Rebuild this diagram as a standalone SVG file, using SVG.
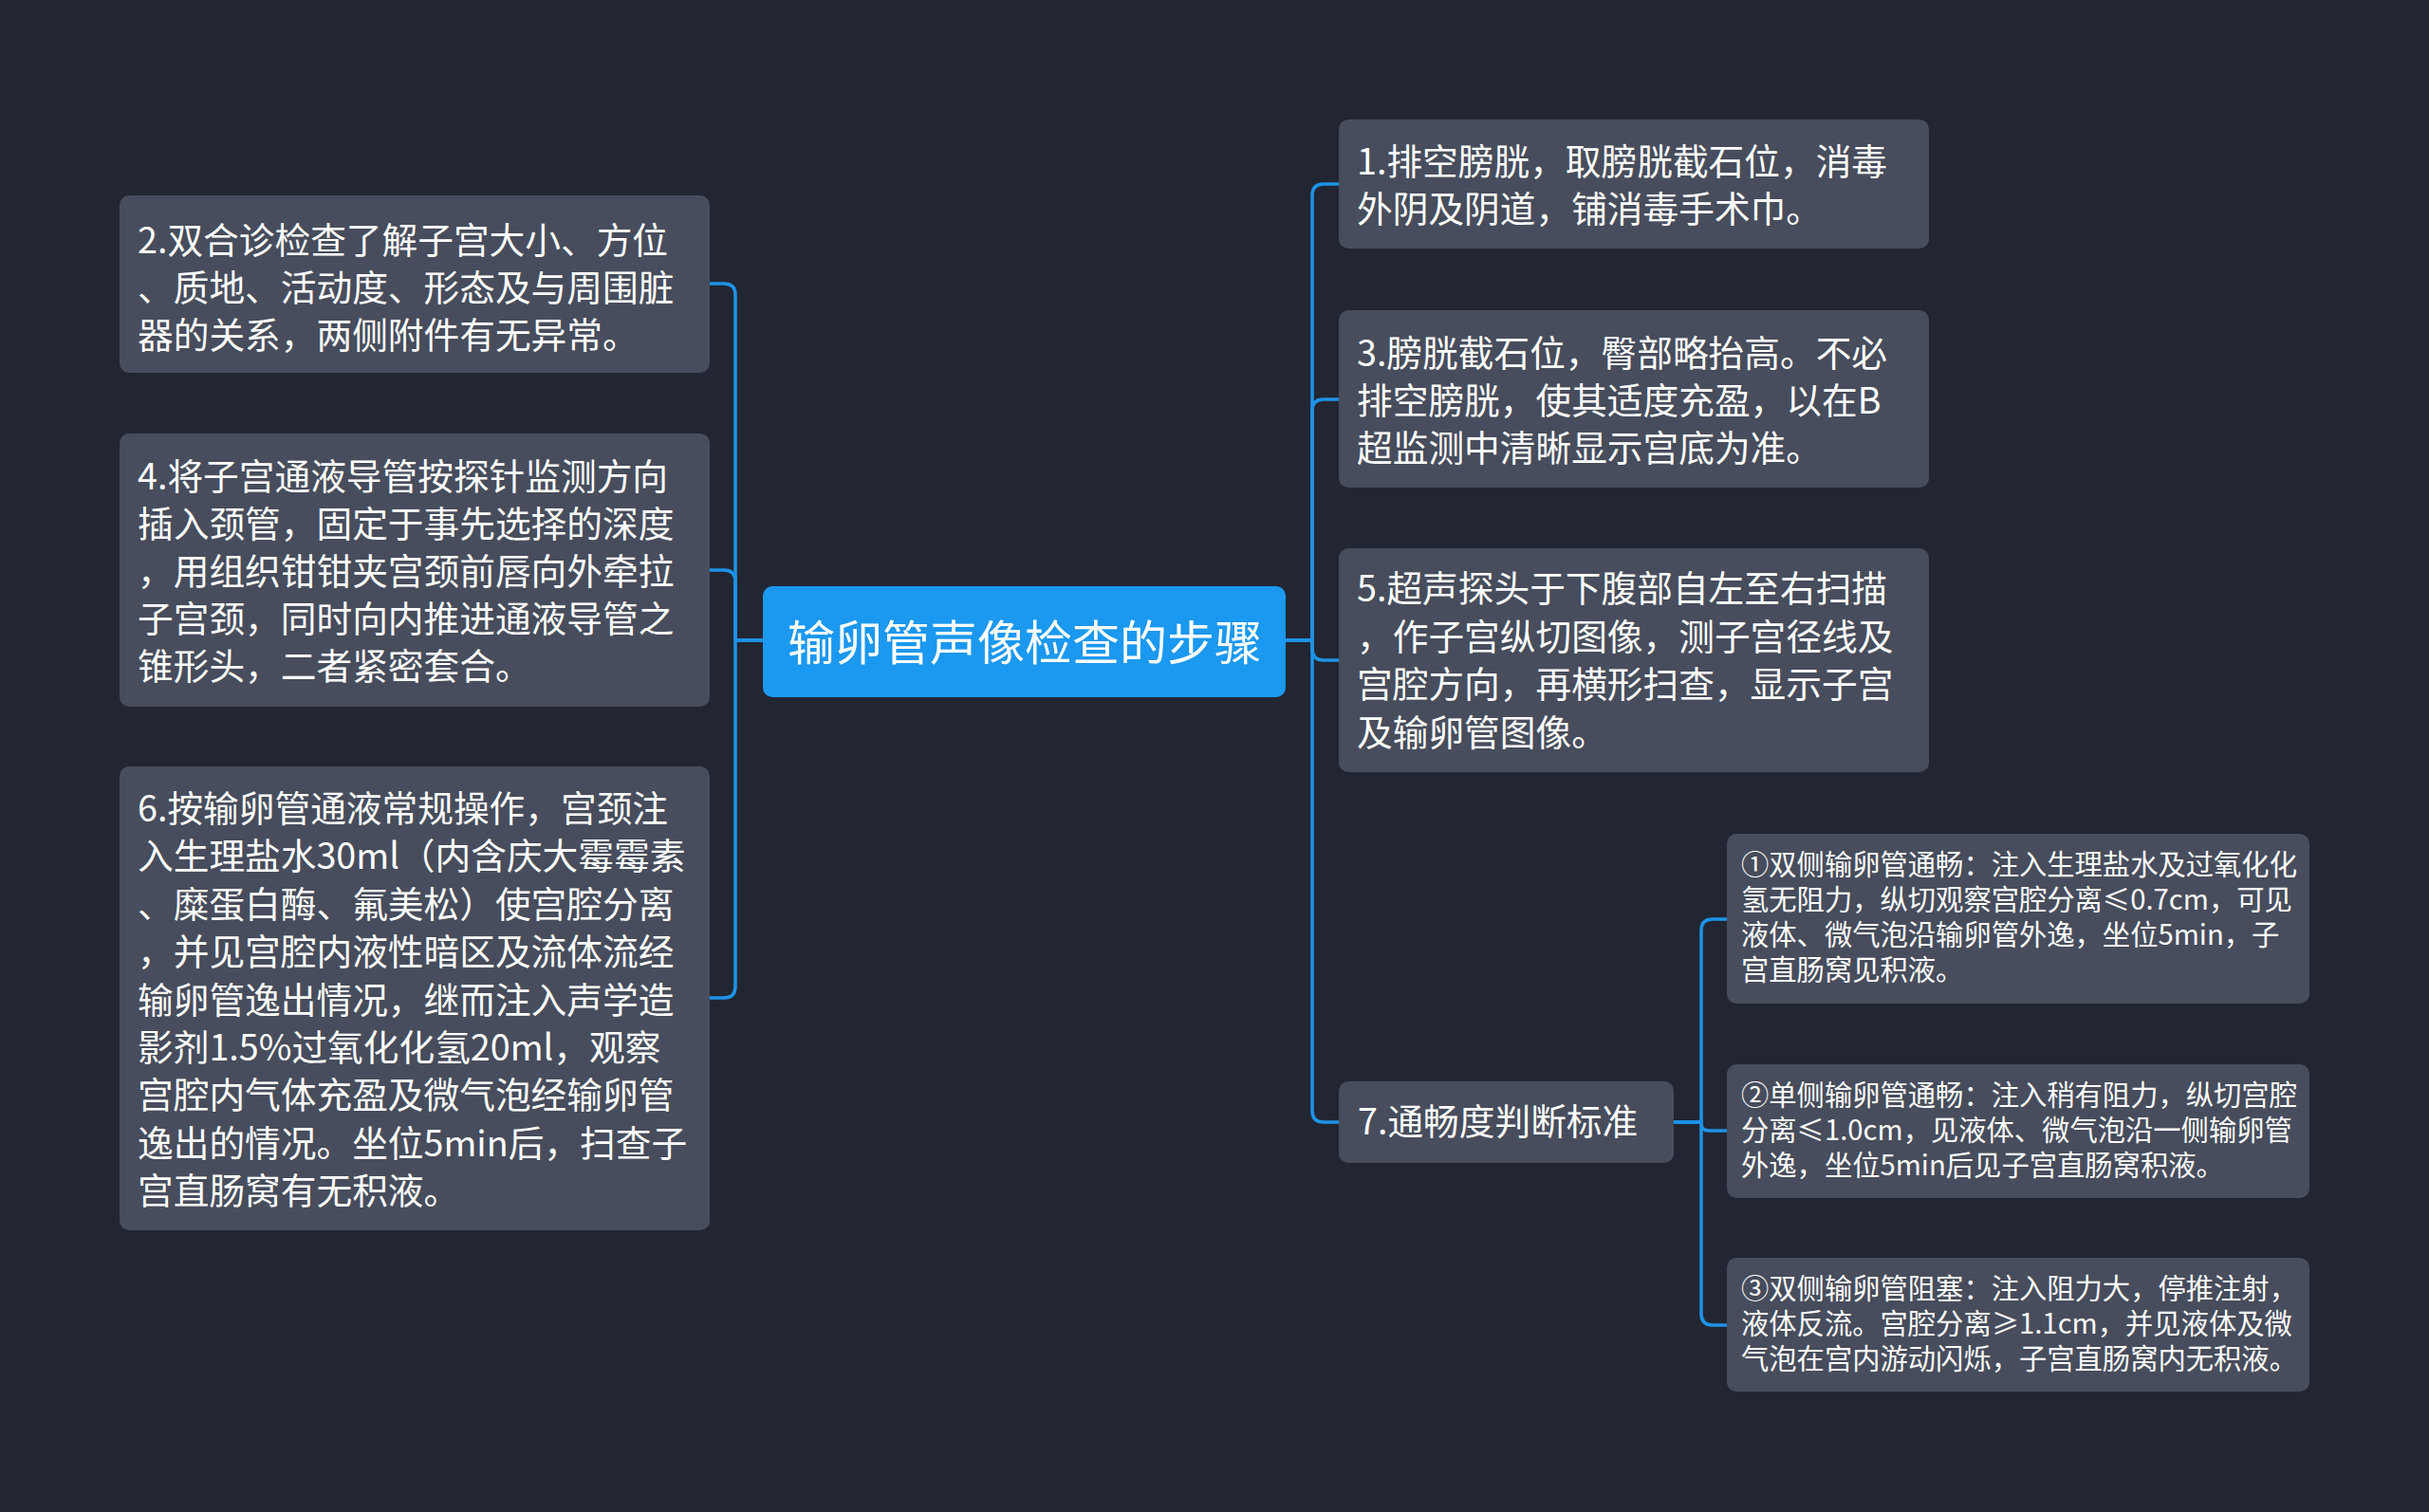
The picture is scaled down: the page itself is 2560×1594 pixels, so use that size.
<svg xmlns="http://www.w3.org/2000/svg" width="2560" height="1594" viewBox="0 0 2560 1594">
<style>
.bg{fill:#222632}
.box{fill:#474d5c}
.root{fill:#1b98ef}
.t{font-family:"Noto Sans CJK SC","Noto Sans",sans-serif;fill:#ffffff;font-size:37.7px}
.s{font-size:29.3px}
.r{font-size:50px}
.ln{fill:none;stroke:#1e93e6;stroke-width:3.5}
</style>
<rect class="bg" x="0" y="0" width="2560" height="1594"/>
<g id="connectors">
<path class="ln" d="M804,675 H775 V311 Q775,299 763,299 H748"/>
<path class="ln" d="M804,675 H775 V613 Q775,601 763,601 H748"/>
<path class="ln" d="M804,675 H775 V1040 Q775,1052 763,1052 H748"/>
<path class="ln" d="M1355,675 H1383 V206 Q1383,194 1395,194 H1411"/>
<path class="ln" d="M1355,675 H1383 V433 Q1383,421 1395,421 H1411"/>
<path class="ln" d="M1355,675 H1383 V684 Q1383,696 1395,696 H1411"/>
<path class="ln" d="M1355,675 H1383 V1171 Q1383,1183 1395,1183 H1411"/>
<path class="ln" d="M1764,1183 H1793 V981 Q1793,969 1805,969 H1820"/>
<path class="ln" d="M1764,1183 H1793 V1184 Q1793,1192 1801,1192 H1820"/>
<path class="ln" d="M1764,1183 H1793 V1385 Q1793,1397 1805,1397 H1820"/>
</g>
<g id="root">
<rect class="root" x="804" y="618" width="551" height="117" rx="10"/>
<text class="t r" x="1080" y="696" text-anchor="middle">输卵管声像检查的步骤</text>
</g>
<g id="n2">
<rect class="box" x="126" y="206" width="622" height="187" rx="10"/>
<text class="t" x="145" y="267"><tspan x="145">2.双合诊检查了解子宫大小、方位</tspan><tspan x="145" dy="50">、质地、活动度、形态及与周围脏</tspan><tspan x="145" dy="50">器的关系，两侧附件有无异常。</tspan></text>
</g>
<g id="n4">
<rect class="box" x="126" y="457" width="622" height="288" rx="10"/>
<text class="t" x="145" y="516"><tspan x="145">4.将子宫通液导管按探针监测方向</tspan><tspan x="145" dy="50">插入颈管，固定于事先选择的深度</tspan><tspan x="145" dy="50">，用组织钳钳夹宫颈前唇向外牵拉</tspan><tspan x="145" dy="50">子宫颈，同时向内推进通液导管之</tspan><tspan x="145" dy="50">锥形头，二者紧密套合。</tspan></text>
</g>
<g id="n6">
<rect class="box" x="126" y="808" width="622" height="489" rx="10"/>
<text class="t" x="145" y="866"><tspan x="145">6.按输卵管通液常规操作，宫颈注</tspan><tspan x="145" dy="50.4">入生理盐水30ml（内含庆大霉霉素</tspan><tspan x="145" dy="50.4">、糜蛋白酶、氟美松）使宫腔分离</tspan><tspan x="145" dy="50.4">，并见宫腔内液性暗区及流体流经</tspan><tspan x="145" dy="50.4">输卵管逸出情况，继而注入声学造</tspan><tspan x="145" dy="50.4">影剂1.5%过氧化化氢20ml，观察</tspan><tspan x="145" dy="50.4">宫腔内气体充盈及微气泡经输卵管</tspan><tspan x="145" dy="50.4">逸出的情况。坐位5min后，扫查子</tspan><tspan x="145" dy="50.4">宫直肠窝有无积液。</tspan></text>
</g>
<g id="n1">
<rect class="box" x="1411" y="126" width="622" height="136" rx="10"/>
<text class="t" x="1430" y="184"><tspan x="1430">1.排空膀胱，取膀胱截石位，消毒</tspan><tspan x="1430" dy="50">外阴及阴道，铺消毒手术巾。</tspan></text>
</g>
<g id="n3">
<rect class="box" x="1411" y="327" width="622" height="187" rx="10"/>
<text class="t" x="1430" y="386"><tspan x="1430">3.膀胱截石位，臀部略抬高。不必</tspan><tspan x="1430" dy="50">排空膀胱，使其适度充盈，以在B</tspan><tspan x="1430" dy="50">超监测中清晰显示宫底为准。</tspan></text>
</g>
<g id="n5">
<rect class="box" x="1411" y="578" width="622" height="236" rx="10"/>
<text class="t" x="1430" y="634"><tspan x="1430">5.超声探头于下腹部自左至右扫描</tspan><tspan x="1430" dy="50.5">，作子宫纵切图像，测子宫径线及</tspan><tspan x="1430" dy="50.5">宫腔方向，再横形扫查，显示子宫</tspan><tspan x="1430" dy="50.5">及输卵管图像。</tspan></text>
</g>
<g id="n7">
<rect class="box" x="1411" y="1140" width="353" height="86" rx="10"/>
<text class="t" x="1431" y="1196">7.通畅度判断标准</text>
</g>
<g id="s1">
<rect class="box" x="1820" y="879" width="614" height="179" rx="10"/>
<text class="t s" x="1835" y="922"><tspan x="1835">①双侧输卵管通畅：注入生理盐水及过氧化化</tspan><tspan x="1835" dy="37">氢无阻力，纵切观察宫腔分离≤0.7cm，可见</tspan><tspan x="1835" dy="37">液体、微气泡沿输卵管外逸，坐位5min，子</tspan><tspan x="1835" dy="37">宫直肠窝见积液。</tspan></text>
</g>
<g id="s2">
<rect class="box" x="1820" y="1122" width="614" height="141" rx="10"/>
<text class="t s" x="1835" y="1165"><tspan x="1835">②单侧输卵管通畅：注入稍有阻力，纵切宫腔</tspan><tspan x="1835" dy="37">分离≤1.0cm，见液体、微气泡沿一侧输卵管</tspan><tspan x="1835" dy="37">外逸，坐位5min后见子宫直肠窝积液。</tspan></text>
</g>
<g id="s3">
<rect class="box" x="1820" y="1326" width="614" height="141" rx="10"/>
<text class="t s" x="1835" y="1369"><tspan x="1835">③双侧输卵管阻塞：注入阻力大，停推注射，</tspan><tspan x="1835" dy="37">液体反流。宫腔分离≥1.1cm，并见液体及微</tspan><tspan x="1835" dy="37">气泡在宫内游动闪烁，子宫直肠窝内无积液。</tspan></text>
</g>
</svg>
